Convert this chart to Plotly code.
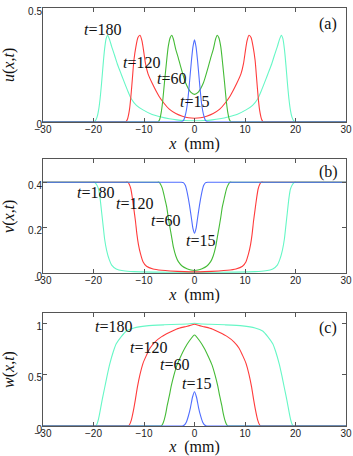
import plotly.graph_objects as go

# ---------------- data ----------------
# panel (a): u(x,t)
u180_x = [-30, -25, -21, -20.4, -20.1, -19.9, -19.6, -19.3, -19.0, -18.7, -18.4, -18.1, -17.8, -17.5, -17.2, -16.8, -16.4, -15.8, -15.3, -14.7, -14.1, -13.3, -12.5, -11.5, -10.2, -8.5, -6.8, -5.0, -3.5, -2.0, 0,
          2.0, 3.5, 5.0, 6.8, 8.5, 10.2, 11.5, 12.5, 13.3, 14.1, 14.7, 15.3, 15.8, 16.4, 16.8, 17.2, 17.5, 17.8, 18.1, 18.4, 18.7, 19.0, 19.3, 19.6, 19.9, 20.1, 20.4, 21, 25, 30]
u180_y = [0, 0, 0, 0, 0, 0, 0.005, 0.02, 0.05, 0.10, 0.17, 0.25, 0.32, 0.365, 0.38, 0.36, 0.33, 0.29, 0.255, 0.22, 0.185, 0.14, 0.10, 0.072, 0.052, 0.033, 0.022, 0.013, 0.008, 0.005, 0.004,
          0.005, 0.008, 0.013, 0.022, 0.033, 0.052, 0.072, 0.10, 0.14, 0.185, 0.22, 0.255, 0.29, 0.33, 0.36, 0.38, 0.365, 0.32, 0.25, 0.17, 0.10, 0.05, 0.02, 0.005, 0, 0, 0, 0, 0, 0]

u120_x = [-30, -25, -20, -15, -14.2, -13.9, -13.6, -13.3, -12.9, -12.6, -12.3, -12.0, -11.6, -11.2, -10.8, -10.4, -10.0, -9.7, -9.2, -8.4, -7.0, -6.0, -5.0, -3.7, -2.4, -1.2, 0,
          1.2, 2.4, 3.7, 5.0, 6.0, 7.0, 8.4, 9.2, 9.7, 10.0, 10.4, 10.8, 11.2, 11.6, 12.0, 12.3, 12.6, 12.9, 13.3, 13.6, 13.9, 14.2, 15, 20, 25, 30]
u120_y = [0, 0, 0, 0, 0, 0, 0, 0.01, 0.05, 0.11, 0.19, 0.27, 0.33, 0.37, 0.38, 0.355, 0.30, 0.255, 0.21, 0.17, 0.111, 0.08, 0.055, 0.036, 0.024, 0.017, 0.015,
          0.017, 0.024, 0.036, 0.055, 0.08, 0.111, 0.17, 0.21, 0.255, 0.30, 0.355, 0.38, 0.37, 0.33, 0.27, 0.19, 0.11, 0.05, 0.01, 0, 0, 0, 0, 0, 0, 0]

u60_x = [-30, -25, -20, -15, -10, -8, -7.6, -7.4, -7.2, -6.9, -6.6, -6.3, -6.0, -5.6, -5.2, -4.8, -4.5, -4.2, -3.7, -3.2, -2.75, -1.75, -0.75, 0,
         0.75, 1.75, 2.75, 3.2, 3.7, 4.2, 4.5, 4.8, 5.2, 5.6, 6.0, 6.3, 6.6, 6.9, 7.2, 7.4, 7.6, 8, 10, 15, 20, 25, 30]
u60_y = [0, 0, 0, 0, 0, 0, 0, 0, 0, 0.01, 0.04, 0.09, 0.16, 0.25, 0.33, 0.37, 0.38, 0.365, 0.317, 0.28, 0.243, 0.17, 0.13, 0.12,
         0.13, 0.17, 0.243, 0.28, 0.317, 0.365, 0.38, 0.37, 0.33, 0.25, 0.16, 0.09, 0.04, 0.01, 0, 0, 0, 0, 0, 0, 0, 0, 0]

u15_x = [-30, -25, -20, -15, -10, -5, -3.4, -3.0, -2.6, -2.2, -1.8, -1.4, -1.0, -0.6, -0.3, 0, 0.3, 0.6, 1.0, 1.4, 1.8, 2.2, 2.6, 3.0, 3.4, 5, 10, 15, 20, 25, 30]
u15_y = [0, 0, 0, 0, 0, 0, 0, 0, 0, 0.005, 0.03, 0.08, 0.17, 0.27, 0.33, 0.36, 0.33, 0.27, 0.17, 0.08, 0.03, 0.005, 0, 0, 0, 0, 0, 0, 0, 0, 0]

# panel (b): v(x,t)
v180_x = [-30, -25, -21, -20.4, -20.1, -19.8, -19.4, -19.0, -18.7, -18.4, -18.1, -17.8, -17.4, -16.9, -16.4, -15.5, -14.1, -12.0, -8.0, 0,
          8.0, 12.0, 14.1, 15.5, 16.4, 16.9, 17.4, 17.8, 18.1, 18.4, 18.7, 19.0, 19.4, 19.8, 20.1, 20.4, 21, 25, 30]
v180_y = [0.4, 0.4, 0.4, 0.4, 0.4, 0.4, 0.39, 0.37, 0.33, 0.27, 0.21, 0.15, 0.10, 0.06, 0.035, 0.018, 0.01, 0.006, 0.004, 0.003,
          0.004, 0.006, 0.01, 0.018, 0.035, 0.06, 0.10, 0.15, 0.21, 0.27, 0.33, 0.37, 0.39, 0.4, 0.4, 0.4, 0.4, 0.4, 0.4]

v120_x = [-30, -25, -20, -15, -14.0, -13.6, -13.2, -12.9, -12.6, -12.3, -12.0, -11.7, -11.4, -11.1, -10.7, -10.2, -9.5, -8.2, -6.5, -4.8, -2.0, 0,
          2.0, 4.8, 6.5, 8.2, 9.5, 10.2, 10.7, 11.1, 11.4, 11.7, 12.0, 12.3, 12.6, 12.9, 13.2, 13.6, 14.0, 15, 20, 25, 30]
v120_y = [0.4, 0.4, 0.4, 0.4, 0.4, 0.4, 0.4, 0.39, 0.37, 0.33, 0.28, 0.23, 0.17, 0.125, 0.085, 0.05, 0.03, 0.018, 0.012, 0.009, 0.006, 0.005,
          0.006, 0.009, 0.012, 0.018, 0.03, 0.05, 0.085, 0.125, 0.17, 0.23, 0.28, 0.33, 0.37, 0.39, 0.4, 0.4, 0.4, 0.4, 0.4, 0.4, 0.4]

v60_x = [-30, -25, -20, -15, -10, -8, -7.6, -7.3, -7.0, -6.7, -6.4, -6.1, -5.8, -5.5, -5.2, -4.86, -4.5, -4.2, -3.7, -3.2, -2.4, -1.5, -0.7, 0,
         0.7, 1.5, 2.4, 3.2, 3.7, 4.2, 4.5, 4.86, 5.2, 5.5, 5.8, 6.1, 6.4, 6.7, 7.0, 7.3, 7.6, 8, 10, 15, 20, 25, 30]
v60_y = [0.4, 0.4, 0.4, 0.4, 0.4, 0.4, 0.4, 0.4, 0.4, 0.39, 0.375, 0.35, 0.32, 0.29, 0.245, 0.2, 0.155, 0.116, 0.075, 0.05, 0.03, 0.019, 0.013, 0.011,
         0.013, 0.019, 0.03, 0.05, 0.075, 0.116, 0.155, 0.2, 0.245, 0.29, 0.32, 0.35, 0.375, 0.39, 0.4, 0.4, 0.4, 0.4, 0.4, 0.4, 0.4, 0.4, 0.4]

v15_x = [-30, -25, -20, -15, -10, -5, -3.4, -3.0, -2.6, -2.2, -1.8, -1.4, -1.0, -0.6, -0.3, 0, 0.3, 0.6, 1.0, 1.4, 1.8, 2.2, 2.6, 3.0, 3.4, 5, 10, 15, 20, 25, 30]
v15_y = [0.4, 0.4, 0.4, 0.4, 0.4, 0.4, 0.4, 0.4, 0.4, 0.398, 0.385, 0.35, 0.30, 0.24, 0.195, 0.175, 0.195, 0.24, 0.30, 0.35, 0.385, 0.398, 0.4, 0.4, 0.4, 0.4, 0.4, 0.4, 0.4, 0.4, 0.4]

# panel (c): w(x,t)
w180_x = [-30, -25, -21, -20.4, -20.0, -19.6, -19.3, -19.0, -18.75, -18.3, -17.8, -17.3, -16.8, -16.1, -15.5, -14.5, -13.5, -12.0, -9.5, -6.0, -3.0, -1.5, 0,
          1.5, 3.0, 6.0, 9.5, 12.0, 13.5, 14.5, 15.5, 16.1, 16.8, 17.3, 17.8, 18.3, 18.75, 19.0, 19.3, 19.6, 20.0, 20.4, 21, 25, 30]
w180_y = [0, 0, 0, 0, 0, 0, 0.02, 0.07, 0.13, 0.25, 0.37, 0.49, 0.60, 0.72, 0.80, 0.87, 0.925, 0.955, 0.975, 0.985, 0.99, 0.993, 1.0,
          0.993, 0.99, 0.985, 0.975, 0.955, 0.925, 0.87, 0.80, 0.72, 0.60, 0.49, 0.37, 0.25, 0.13, 0.07, 0.02, 0, 0, 0, 0, 0, 0]

w120_x = [-30, -25, -20, -15, -14.0, -13.6, -13.2, -12.9, -12.5, -12.1, -11.7, -11.3, -10.8, -10.2, -9.5, -8.8, -7.8, -6.5, -5.0, -3.5, -2.0, -1.0, 0,
          1.0, 2.0, 3.5, 5.0, 6.5, 7.8, 8.8, 9.5, 10.2, 10.8, 11.3, 11.7, 12.1, 12.5, 12.9, 13.2, 13.6, 14.0, 15, 20, 25, 30]
w120_y = [0, 0, 0, 0, 0, 0, 0, 0.01, 0.06, 0.15, 0.26, 0.38, 0.50, 0.61, 0.69, 0.76, 0.82, 0.87, 0.91, 0.945, 0.965, 0.977, 0.99,
          0.977, 0.965, 0.945, 0.91, 0.87, 0.82, 0.76, 0.69, 0.61, 0.50, 0.38, 0.26, 0.15, 0.06, 0.01, 0, 0, 0, 0, 0, 0, 0]

w60_x = [-30, -25, -20, -15, -10, -8, -7.4, -7.0, -6.6, -6.3, -6.0, -5.7, -5.4, -5.0, -4.6, -4.1, -3.5, -2.8, -1.9, -1.0, 0,
         1.0, 1.9, 2.8, 3.5, 4.1, 4.6, 5.0, 5.4, 5.7, 6.0, 6.3, 6.6, 7.0, 7.4, 8, 10, 15, 20, 25, 30]
w60_y = [0, 0, 0, 0, 0, 0, 0, 0, 0, 0.02, 0.06, 0.12, 0.20, 0.29, 0.39, 0.49, 0.59, 0.67, 0.76, 0.83, 0.886,
         0.83, 0.76, 0.67, 0.59, 0.49, 0.39, 0.29, 0.20, 0.12, 0.06, 0.02, 0, 0, 0, 0, 0, 0, 0, 0, 0]

w15_x = [-30, -25, -20, -15, -10, -5, -3.2, -2.8, -2.4, -2.0, -1.6, -1.2, -0.8, -0.4, 0, 0.4, 0.8, 1.2, 1.6, 2.0, 2.4, 2.8, 3.2, 5, 10, 15, 20, 25, 30]
w15_y = [0, 0, 0, 0, 0, 0, 0, 0, 0, 0.01, 0.04, 0.10, 0.18, 0.28, 0.334, 0.28, 0.18, 0.10, 0.04, 0.01, 0, 0, 0, 0, 0, 0, 0, 0, 0]

# labels
time_labels = ["t=180", "t=120", "t=60", "t=15"]
a_label_x = [-18.3, -10.4, -4.5, -0.1]
a_label_y = [0.405, 0.26, 0.19, 0.087]
b_label_x = [-19.7, -11.8, -5.8, 1.1]
b_label_y = [0.354, 0.304, 0.233, 0.145]
c_label_x = [-16.1, -9.2, -3.9, 0.3]
c_label_y = [0.967, 0.766, 0.60, 0.41]

x_ticks = [-30, -20, -10, 0, 10, 20, 30]
a_ticks = [0, 0.5]
b_ticks = [0, 0.2, 0.4]
c_ticks = [0, 0.5, 1]

colors = ["#66f7c6", "#ff3b3b", "#44bb36", "#4f6dff"]

# ---------------- figure ----------------
fig = go.Figure()

panels = [
    ("x", "y", [(u180_x, u180_y), (u120_x, u120_y), (u60_x, u60_y), (u15_x, u15_y)]),
    ("x2", "y2", [(v180_x, v180_y), (v120_x, v120_y), (v60_x, v60_y), (v15_x, v15_y)]),
    ("x3", "y3", [(w180_x, w180_y), (w120_x, w120_y), (w60_x, w60_y), (w15_x, w15_y)]),
]
for xa, ya, curves in panels:
    for (cx, cy), col in zip(curves, colors):
        fig.add_trace(go.Scatter(x=cx, y=cy, mode="lines", xaxis=xa, yaxis=ya,
                                 line=dict(color=col, width=1.1, shape="spline", smoothing=0.6),
                                 showlegend=False, hoverinfo="skip", cliponaxis=True))

serif = "Liberation Serif, Times New Roman, serif"
sans = "Liberation Sans, Arial, sans-serif"

axis_common = dict(showline=True, linecolor="#555", linewidth=1, mirror="ticks",
                   ticks="inside", ticklen=4, tickcolor="#555", showgrid=False,
                   zeroline=False, automargin=False,
                   tickfont=dict(family=sans, size=10, color="#222"))

doms = {"a": [0.728, 1.0], "b": [0.366, 0.6376], "c": [0.0, 0.2703]}

def xaxis(anchor):
    return dict(axis_common, range=[-30, 30], tickvals=x_ticks, anchor=anchor,
                domain=[0, 1], ticklabelstandoff=-2,
                title=dict(text="<i>x</i>  (mm)", font=dict(family=serif, size=16, color="#111"),
                           standoff=0))

def yaxis(anchor, dom, rng, tv, title):
    return dict(axis_common, range=rng, tickvals=tv, anchor=anchor, domain=dom,
                ticklabelstandoff=-2, ticklabelshift=3,
                title=dict(text=title, font=dict(family=serif, size=16, color="#111"),
                           standoff=10))

fig.update_layout(
    width=353, height=456,
    margin=dict(l=43, r=7, t=8, b=30, autoexpand=False),
    paper_bgcolor="white", plot_bgcolor="white",
    xaxis=xaxis("y"),
    xaxis2=xaxis("y2"),
    xaxis3=xaxis("y3"),
    yaxis=yaxis("x", doms["a"], [0, 0.5], a_ticks, "<i>u</i>(<i>x</i>,<i>t</i>)"),
    yaxis2=yaxis("x2", doms["b"], [0, 0.5], b_ticks, "<i>v</i>(<i>x</i>,<i>t</i>)"),
    yaxis3=yaxis("x3", doms["c"], [0, 1.1], c_ticks, "<i>w</i>(<i>x</i>,<i>t</i>)"),
)

annotations = []
for (xr, yr, lx, ly) in [("x", "y", a_label_x, a_label_y),
                         ("x2", "y2", b_label_x, b_label_y),
                         ("x3", "y3", c_label_x, c_label_y)]:
    for lab, xv, yv in zip(time_labels, lx, ly):
        txt = "<i>t</i>" + lab[1:]
        annotations.append(dict(text=txt, x=xv, y=yv, xref=xr, yref=yr, showarrow=False,
                                font=dict(family=serif, size=16, color="#111")))

for tag, xr, yr, yv in [("(a)", "x", "y", 0.43), ("(b)", "x2", "y2", 0.446), ("(c)", "x3", "y3", 0.95)]:
    annotations.append(dict(text=tag, x=26.5, y=yv, xref=xr, yref=yr, showarrow=False,
                            font=dict(family=serif, size=16, color="#111")))

fig.update_layout(annotations=annotations)

# the page's default 8px body margin would shift the figure; remove it
fig.write_html("out.html", config={"displayModeBar": False},
               post_script="document.body.style.margin='0px';")
